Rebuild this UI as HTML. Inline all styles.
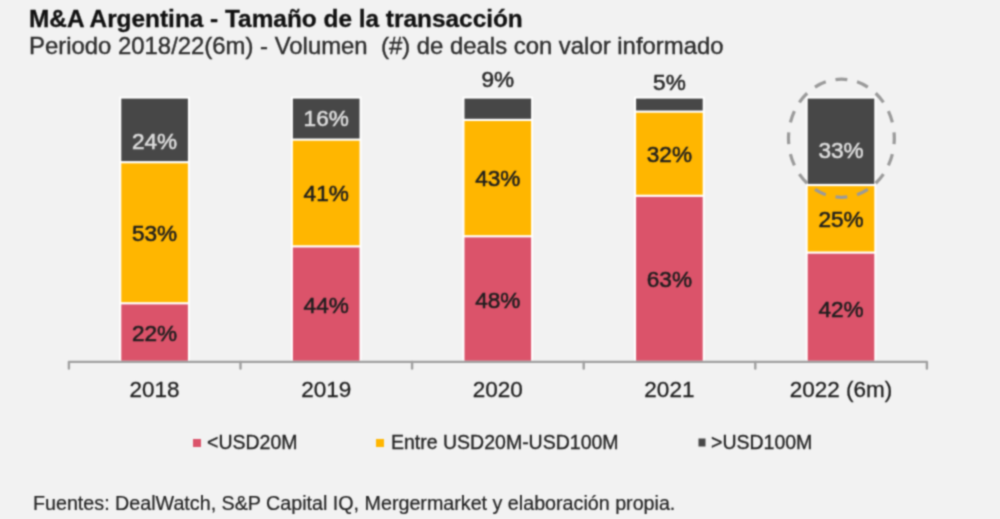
<!DOCTYPE html>
<html><head><meta charset="utf-8"><style>
html,body{margin:0;padding:0;background:#f2f2f2;}
svg{display:block;font-family:"Liberation Sans",sans-serif;}
</style></head><body>
<svg width="1000" height="519" viewBox="0 0 1000 519">
<defs><filter id="bl" x="0" y="0" width="1000" height="519" filterUnits="userSpaceOnUse" color-interpolation-filters="sRGB"><feConvolveMatrix order="5" kernelMatrix="0.00023 0.00332 0.00809 0.00332 0.00023 0.00332 0.04785 0.11640 0.04785 0.00332 0.00809 0.11640 0.28313 0.11640 0.00809 0.00332 0.04785 0.11640 0.04785 0.00332 0.00023 0.00332 0.00809 0.00332 0.00023" edgeMode="duplicate"/></filter></defs>
<g filter="url(#bl)">
<rect width="1000" height="519" fill="#f2f2f2"/>
<rect x="119.3" y="96.6" width="70.6" height="264.2" fill="#fff"/>
<rect x="121.3" y="98.6" width="66.6" height="62.5" fill="#474747"/>
<rect x="121.3" y="163.3" width="66.6" height="138.9" fill="#ffb600"/>
<rect x="121.3" y="304.4" width="66.6" height="56.4" fill="#db536a"/>
<rect x="290.9" y="96.6" width="70.6" height="264.2" fill="#fff"/>
<rect x="292.9" y="98.6" width="66.6" height="39.9" fill="#474747"/>
<rect x="292.9" y="140.7" width="66.6" height="104.6" fill="#ffb600"/>
<rect x="292.9" y="247.5" width="66.6" height="113.3" fill="#db536a"/>
<rect x="462.5" y="96.6" width="70.6" height="264.2" fill="#fff"/>
<rect x="464.5" y="98.6" width="66.6" height="20.2" fill="#474747"/>
<rect x="464.5" y="121" width="66.6" height="114.2" fill="#ffb600"/>
<rect x="464.5" y="237.4" width="66.6" height="123.4" fill="#db536a"/>
<rect x="634.1" y="96.6" width="70.6" height="264.2" fill="#fff"/>
<rect x="636.1" y="98.6" width="66.6" height="11.9" fill="#474747"/>
<rect x="636.1" y="112.7" width="66.6" height="82" fill="#ffb600"/>
<rect x="636.1" y="196.9" width="66.6" height="163.9" fill="#db536a"/>
<rect x="805.7" y="96.6" width="70.6" height="264.2" fill="#fff"/>
<rect x="807.7" y="98.6" width="66.6" height="85.3" fill="#474747"/>
<rect x="807.7" y="186.1" width="66.6" height="65.4" fill="#ffb600"/>
<rect x="807.7" y="253.7" width="66.6" height="107.1" fill="#db536a"/>
<text x="154.6" y="149.1" fill="#dedede" stroke="#dedede" stroke-width="0.55" font-size="22.6" text-anchor="middle">24%</text>
<text x="154.6" y="241.3" fill="#1e1e1e" stroke="#1e1e1e" stroke-width="0.55" font-size="22.6" text-anchor="middle">53%</text>
<text x="154.6" y="341.1" fill="#1e1e1e" stroke="#1e1e1e" stroke-width="0.55" font-size="22.6" text-anchor="middle">22%</text>
<text x="326.2" y="126.1" fill="#dedede" stroke="#dedede" stroke-width="0.55" font-size="22.6" text-anchor="middle">16%</text>
<text x="326.2" y="201.2" fill="#1e1e1e" stroke="#1e1e1e" stroke-width="0.55" font-size="22.6" text-anchor="middle">41%</text>
<text x="326.2" y="312.8" fill="#1e1e1e" stroke="#1e1e1e" stroke-width="0.55" font-size="22.6" text-anchor="middle">44%</text>
<text x="497.8" y="86.5" fill="#2a2a2a" stroke="#2a2a2a" stroke-width="0.55" font-size="22.6" text-anchor="middle">9%</text>
<text x="497.8" y="186.3" fill="#1e1e1e" stroke="#1e1e1e" stroke-width="0.55" font-size="22.6" text-anchor="middle">43%</text>
<text x="497.8" y="308.2" fill="#1e1e1e" stroke="#1e1e1e" stroke-width="0.55" font-size="22.6" text-anchor="middle">48%</text>
<text x="669.4" y="90.0" fill="#2a2a2a" stroke="#2a2a2a" stroke-width="0.55" font-size="22.6" text-anchor="middle">5%</text>
<text x="669.4" y="162.3" fill="#1e1e1e" stroke="#1e1e1e" stroke-width="0.55" font-size="22.6" text-anchor="middle">32%</text>
<text x="669.4" y="287.3" fill="#1e1e1e" stroke="#1e1e1e" stroke-width="0.55" font-size="22.6" text-anchor="middle">63%</text>
<text x="841" y="158.2" fill="#dedede" stroke="#dedede" stroke-width="0.55" font-size="22.6" text-anchor="middle">33%</text>
<text x="841" y="226.9" fill="#1e1e1e" stroke="#1e1e1e" stroke-width="0.55" font-size="22.6" text-anchor="middle">25%</text>
<text x="841" y="317.2" fill="#1e1e1e" stroke="#1e1e1e" stroke-width="0.55" font-size="22.6" text-anchor="middle">42%</text>
<path d="M68.9 368.6 V361.85 H926.9 V368.6" fill="none" stroke="#a0a0a0" stroke-width="2.4" stroke-linejoin="round" stroke-linecap="round"/>
<line x1="240.5" y1="361.85" x2="240.5" y2="368.6" stroke="#a0a0a0" stroke-width="2.4" stroke-linecap="round"/>
<line x1="412.1" y1="361.85" x2="412.1" y2="368.6" stroke="#a0a0a0" stroke-width="2.4" stroke-linecap="round"/>
<line x1="583.7" y1="361.85" x2="583.7" y2="368.6" stroke="#a0a0a0" stroke-width="2.4" stroke-linecap="round"/>
<line x1="755.3" y1="361.85" x2="755.3" y2="368.6" stroke="#a0a0a0" stroke-width="2.4" stroke-linecap="round"/>
<text x="154.6" y="396.5" fill="#1e1e1e" stroke="#1e1e1e" stroke-width="0.3" font-size="22.5" text-anchor="middle">2018</text>
<text x="326.2" y="396.5" fill="#1e1e1e" stroke="#1e1e1e" stroke-width="0.3" font-size="22.5" text-anchor="middle">2019</text>
<text x="497.8" y="396.5" fill="#1e1e1e" stroke="#1e1e1e" stroke-width="0.3" font-size="22.5" text-anchor="middle">2020</text>
<text x="669.4" y="396.5" fill="#1e1e1e" stroke="#1e1e1e" stroke-width="0.3" font-size="22.5" text-anchor="middle">2021</text>
<text x="841" y="396.5" fill="#1e1e1e" stroke="#1e1e1e" stroke-width="0.3" font-size="22.5" text-anchor="middle">2022 (6m)</text>
<ellipse cx="841.4" cy="138.25" rx="52.9" ry="59.05" fill="none" stroke="#9a9a9a" stroke-width="3.2" pathLength="352" stroke-dasharray="12 10" stroke-dashoffset="6"/>
<rect x="193" y="439" width="8" height="8" fill="#db536a"/>
<text x="207" y="449" fill="#222" stroke="#222" stroke-width="0.3" font-size="19.5">&lt;USD20M</text>
<rect x="376" y="439" width="8" height="8" fill="#ffb600"/>
<text x="391" y="449" fill="#222" stroke="#222" stroke-width="0.3" font-size="19.5">Entre USD20M-USD100M</text>
<rect x="698.5" y="438.5" width="7" height="8" fill="#474747"/>
<text x="711" y="449" fill="#222" stroke="#222" stroke-width="0.3" font-size="19.5">&gt;USD100M</text>
<text x="29" y="26.5" fill="#111" stroke="#111" stroke-width="0.3" font-size="24.4" font-weight="bold">M&amp;A Argentina - Tamaño de la transacción</text>
<text x="29" y="54" fill="#2e2e2e" stroke="#2e2e2e" stroke-width="0.4" font-size="23.9" xml:space="preserve">Periodo 2018/22(6m) - Volumen  (#) de deals con valor informado</text>
<text x="33" y="509.5" fill="#222" stroke="#222" stroke-width="0.2" font-size="19.7">Fuentes: DealWatch, S&amp;P Capital IQ, Mergermarket y elaboración propia.</text>
</g></svg>
</body></html>
